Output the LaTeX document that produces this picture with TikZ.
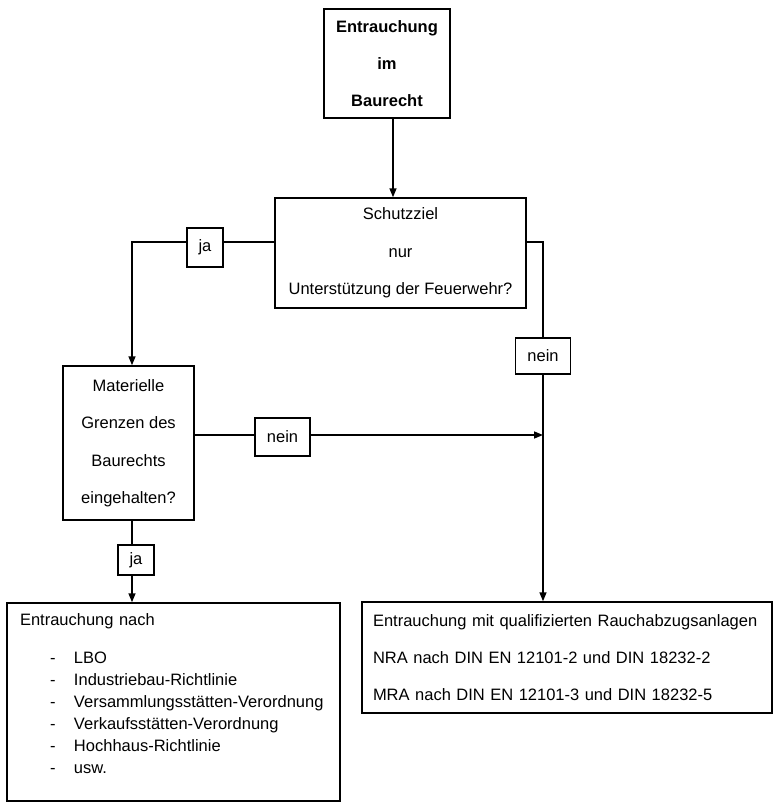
\documentclass[tikz,border=0pt]{standalone}
\usepackage{fontspec}
\setmainfont{Liberation Sans}
\usetikzlibrary{arrows.meta}
\newcommand{\listitem}[1]{\hspace*{30pt}\makebox[24pt][l]{-}#1}
\begin{document}
\begin{tikzpicture}[x=1pt,y=-1pt,line width=1.5pt,
    >={Triangle[length=9pt,width=7pt]},
    box/.style={draw,rectangle,inner sep=0pt,align=center,
        font=\fontsize{16.5}{37.5}\selectfont},
    tag/.style={draw,rectangle,inner sep=0pt,
        font=\fontsize{16.5}{20}\selectfont},
    result/.style={draw,rectangle,inner ysep=0pt,align=left}]
            \useasboundingbox (0,0) rectangle (780,806);

            \begin{scope}[every node/.style={box}]
                \node (top)[minimum width=126pt,minimum height=109pt,font=\fontsize{16.5}{37}\selectfont\bfseries] at (387,63.5) {Entrauchung\\im\\Baurecht};
                \node (schutz)[minimum width=251pt,minimum height=110pt] at (400.5,253) {Schutzziel\\nur\\Unterstützung der Feuerwehr?};
                \node (mat)[minimum width=131pt,minimum height=154pt] at (128.5,443) {Materielle\\Grenzen des\\Baurechts\\eingehalten?};
            \end{scope}

            \begin{scope}[every node/.style={tag}]
                \node (ja1)[minimum width=36pt,minimum height=39pt] at (205,247.5) {ja};
                \node (nein1)[minimum width=55pt,minimum height=36pt] at (543,356) {nein};
                \node (nein2)[minimum width=55pt,minimum height=38pt] at (282.5,437) {nein};
                \node (ja2)[minimum width=36pt,minimum height=30pt] at (136,560) {ja};
            \end{scope}

            \node (res1)[result,inner xsep=13pt,text width=307pt,minimum height=198pt,
                font=\fontsize{16.5}{22}\selectfont] at (173.5,702) {Entrauchung nach\\[16pt]
                \listitem{LBO}\\
                \listitem{Industriebau-Richtlinie}\\
                \listitem{Versammlungsstätten-Verordnung}\\
                \listitem{Verkaufsstätten-Verordnung}\\
                \listitem{Hochhaus-Richtlinie}\\
                \listitem{usw.}\\[-5pt]
                \mbox{}};
            \node (res2)[result,inner xsep=11pt,text width=388pt,minimum height=111pt,
                font=\fontsize{16.5}{37}\selectfont] at (567,657.5) {Entrauchung mit qualifizierten Rauchabzugsanlagen\\
                NRA nach DIN EN 12101-2 und DIN 18232-2\\
                MRA nach DIN EN 12101-3 und DIN 18232-5};

            \coordinate (topout) at ([xshift=6pt]top.south);
            \coordinate (sja) at ([yshift=11pt]schutz.west);
            \coordinate (snein) at ([yshift=11pt]schutz.east);
            \coordinate (matin) at ([xshift=3.5pt]mat.north);
            \coordinate (matout) at ([xshift=3.5pt]mat.south);
            \coordinate (mnein) at ([yshift=8pt]mat.east);

            \begin{scope}
                \draw [->] (topout) -- (topout |- schutz.north);
                \draw (sja) -- (sja -| ja1.east);
                \draw [->] (sja -| ja1.west) -| (matin);
                \draw (snein) -| (nein1.north);
                \draw [->] (nein1.south) -- (nein1 |- res2.north);
                \draw (mnein) -- (mnein -| nein2.west);
                \draw [->] (mnein -| nein2.east) -- (mnein -| nein1);
                \draw (matout) -- (matout |- ja2.north);
                \draw [->] (matout |- ja2.south) -- (matout |- res1.north);
            \end{scope}
\end{tikzpicture}
\end{document}
